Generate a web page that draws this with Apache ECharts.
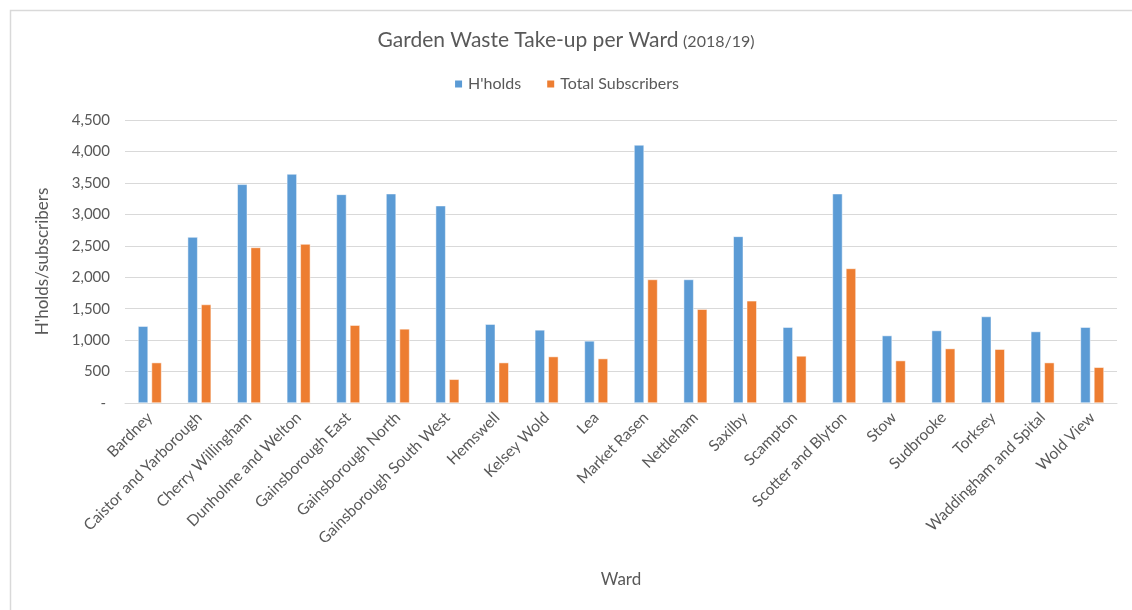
<!DOCTYPE html>
<html>
<head>
<meta charset="utf-8">
<script src="https://cdn.jsdelivr.net/npm/echarts@6/dist/echarts.min.js"></script>
<style>
html,body{margin:0;padding:0;background:#fff;}
#c{width:1132px;height:610px;}
</style>
</head>
<body>
<div id="c"></div>
<script>
const wards = ["Bardney","Caistor and Yarborough","Cherry Willingham","Dunholme and Welton","Gainsborough East","Gainsborough North","Gainsborough South West","Hemswell","Kelsey Wold","Lea","Market Rasen","Nettleham","Saxilby","Scampton","Scotter and Blyton","Stow","Sudbrooke","Torksey","Waddingham and Spital","Wold View"];
const households = [1221,2638,3477,3641,3317,3328,3137,1253,1162,987,4103,1964,2649,1205,3328,1072,1152,1375,1136,1205];
const subscribers = [642,1566,2473,2527,1237,1178,377,642,738,706,1964,1492,1624,748,2139,674,865,855,642,568];
const yTicks = [0,500,1000,1500,2000,2500,3000,3500,4000,4500];

const FONT = 'Lato';
const TXT = '#595959';
const chart = echarts.init(document.getElementById('c'), null, {renderer:'canvas'});
chart.setOption({
  backgroundColor:'#fff',
  animation:false,
  textStyle:{fontFamily:FONT, color:TXT},
  graphic:[{type:'rect', left:8, top:8, shape:{width:1140, height:620}, style:{fill:'none', stroke:'#d9d9d9', lineWidth:1.5}, silent:true}],
  title:{
    text:'{a|Garden Waste Take-up per Ward} {b|(2018/19)}',
    left:'center', top:25,
    textStyle:{fontWeight:'normal', rich:{a:{fontSize:21, color:TXT, fontFamily:FONT, fontWeight:'normal'}, b:{fontSize:16, color:TXT, fontFamily:FONT, fontWeight:'normal', padding:[3,0,0,0]}}}
  },
  legend:{
    top:71, left:'center', itemWidth:9, itemHeight:9, itemGap:24,
    icon:'rect',
    textStyle:{fontSize:16, color:TXT, fontFamily:FONT},
    data:["H'holds","Total Subscribers"]
  },
  grid:{left:125, right:15, top:120, bottom:207, containLabel:false},
  xAxis:{
    type:'category', data:wards,
    name:'Ward', nameLocation:'middle', nameGap:168,
    nameTextStyle:{fontSize:17, color:TXT, fontFamily:FONT},
    axisTick:{show:false},
    axisLine:{lineStyle:{color:'#d9d9d9', width:1}},
    axisLabel:{rotate:45, fontSize:15.5, color:TXT, fontFamily:FONT, interval:0, margin:12}
  },
  yAxis:{
    type:'value', min:0, max:4500, interval:500,
    name:"H'holds/subscribers", nameLocation:'middle', nameGap:74, nameRotate:90,
    nameTextStyle:{fontSize:17, color:TXT, fontFamily:FONT},
    axisLine:{show:false}, axisTick:{show:false},
    splitLine:{lineStyle:{color:'#d9d9d9', width:1}},
    axisLabel:{fontSize:15, color:TXT, fontFamily:FONT, margin:15,
      formatter:function(v){ return v===0 ? ' - ' : v.toLocaleString('en-US'); }}
  },
  series:[
    {name:"H'holds", type:'bar', data:households, barWidth:10, barGap:'35%',
     itemStyle:{color:'#5B9BD5', borderColor:'#fff', borderWidth:0.5}},
    {name:'Total Subscribers', type:'bar', data:subscribers, barWidth:10, barGap:'35%',
     itemStyle:{color:'#ED7D31', borderColor:'#fff', borderWidth:0.5}}
  ]
});
</script>
</body>
</html>
